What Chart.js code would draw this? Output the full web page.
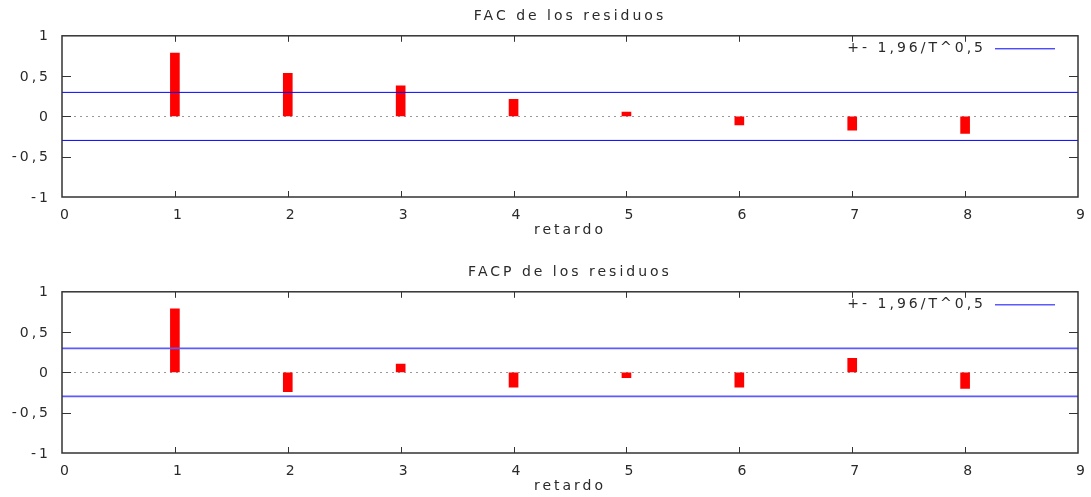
<!DOCTYPE html>
<html>
<head>
<meta charset="utf-8">
<script src="https://cdn.jsdelivr.net/npm/chart.js@4.4.1/dist/chart.umd.min.js"></script>
<style>
    body { margin: 0; width: 1091px; height: 497px; background: #fff; position: relative; overflow: hidden; }
    .panel { position: absolute; left: 0; width: 1091px; height: 241px; }
</style>
</head>
<body>
<div class="panel" style="top:0px"><canvas id="chartFac"></canvas></div>
<div class="panel" style="top:256px"><canvas id="chartFacp"></canvas></div>
<script>
var lags = [1, 2, 3, 4, 5, 6, 7, 8];
var facValues = [0.786, 0.535, 0.38, 0.212, 0.053, -0.106, -0.171, -0.212];
var facpValues = [0.79, -0.24, 0.103, -0.182, -0.066, -0.182, 0.174, -0.198];
var bandLimit = 0.298;
var xRange = [0, 9];
var yRange = [-1, 1];
var bandLabel = '+- 1,96/T^0,5';
var xTitle = 'retardo';

Chart.defaults.font.family = "'DejaVu Sans', sans-serif";
Chart.defaults.font.size = 14;
Chart.defaults.color = '#2a2a2a';

// gnuplot look: closed frame, inward ticks, legend inside top right
var gnuplotFrame = {
    id: 'gnuplotFrame',
    beforeUpdate: function (chart) { chart.ctx.letterSpacing = '3px'; },
    beforeDraw: function (chart) { chart.ctx.letterSpacing = '3px'; },
    afterDraw: function (chart) {
        var ctx = chart.ctx;
        var a = chart.chartArea;
        var xs = chart.scales.x;
        var ys = chart.scales.y;
        ctx.save();
        ctx.strokeStyle = '#333';
        ctx.lineWidth = 1.5;
        ctx.strokeRect(a.left, a.top, a.right - a.left, a.bottom - a.top);
        ctx.beginPath();
        xs.ticks.forEach(function (t) {
            if (t.value <= xs.min || t.value >= xs.max) return;
            var px = Math.round(xs.getPixelForValue(t.value)) + 0.5;
            ctx.moveTo(px, a.bottom); ctx.lineTo(px, a.bottom - 6);
            ctx.moveTo(px, a.top); ctx.lineTo(px, a.top + 6);
        });
        ys.ticks.forEach(function (t) {
            if (t.value <= ys.min || t.value >= ys.max) return;
            var py = Math.round(ys.getPixelForValue(t.value)) + 0.5;
            ctx.moveTo(a.left, py); ctx.lineTo(a.left + 9, py);
            ctx.moveTo(a.right, py); ctx.lineTo(a.right - 9, py);
        });
        ctx.lineWidth = 1;
        ctx.stroke();

        var ds = chart.data.datasets[0];
        var ly = a.top + 13;
        ctx.letterSpacing = '3px';
        ctx.font = "14px 'DejaVu Sans', sans-serif";
        ctx.fillStyle = '#2a2a2a';
        ctx.textAlign = 'right';
        ctx.textBaseline = 'middle';
        ctx.fillText(ds.label, a.right - 92, ly);
        ctx.beginPath();
        ctx.strokeStyle = ds.borderColor;
        ctx.lineWidth = ds.borderWidth;
        ctx.moveTo(a.right - 83, ly);
        ctx.lineTo(a.right - 23, ly);
        ctx.stroke();
        ctx.restore();
    }
};

function makeChart(id, title, values, bandColor, bandWidth) {
    var ctx = document.getElementById(id).getContext('2d');
    return new Chart(ctx, {
        type: 'bar',
        data: {
            datasets: [{
                type: 'line',
                label: bandLabel,
                data: [{ x: xRange[0], y: bandLimit }, { x: xRange[1], y: bandLimit }],
                borderColor: bandColor,
                borderWidth: bandWidth,
                pointRadius: 0,
                order: 0
            }, {
                type: 'line',
                label: '-' + bandLabel,
                data: [{ x: xRange[0], y: -bandLimit }, { x: xRange[1], y: -bandLimit }],
                borderColor: bandColor,
                borderWidth: bandWidth,
                pointRadius: 0,
                order: 0
            }, {
                label: title,
                data: lags.map(function (l, i) { return { x: l, y: values[i] }; }),
                backgroundColor: '#ff0000',
                borderWidth: 0,
                barThickness: 9,
                order: 1
            }]
        },
        options: {
            responsive: true,
            maintainAspectRatio: false,
            animation: false,
            events: [],
            layout: {
                padding: { left: 0, right: 13, top: 0, bottom: 0 }
            },
            scales: {
                x: {
                    type: 'linear',
                    min: xRange[0],
                    max: xRange[1],
                    offset: false,
                    grid: { display: false, offset: false },
                    border: { display: false },
                    ticks: { stepSize: 1, padding: 2, labelOffset: 4, maxRotation: 0, autoSkip: false },
                    title: { display: true, text: xTitle, padding: { top: 0, bottom: 2 } },
                    afterFit: function (s) { s.height = 44; }
                },
                y: {
                    min: yRange[0],
                    max: yRange[1],
                    grid: {
                        drawTicks: false,
                        lineWidth: 1,
                        color: function (c) { return c.tick && c.tick.value === 0 ? '#999' : 'transparent'; }
                    },
                    border: { display: false, dash: [2, 4] },
                    ticks: {
                        stepSize: 0.5,
                        padding: 11,
                        labelOffset: 1,
                        callback: function (v) { return String(v).replace('.', ','); }
                    },
                    afterFit: function (s) { s.width = 62; }
                }
            },
            plugins: {
                legend: { display: false },
                tooltip: { enabled: false },
                title: {
                    display: true,
                    fullSize: false,
                    text: title,
                    font: { size: 14, weight: 'normal' },
                    color: '#2a2a2a',
                    padding: { top: 8, bottom: 11 }
                }
            }
        },
        plugins: [gnuplotFrame]
    });
}

makeChart('chartFac', 'FAC de los residuos', facValues, '#0000ff', 1);
makeChart('chartFacp', 'FACP de los residuos', facpValues, '#5b5bff', 1.6);
</script>
</body>
</html>
